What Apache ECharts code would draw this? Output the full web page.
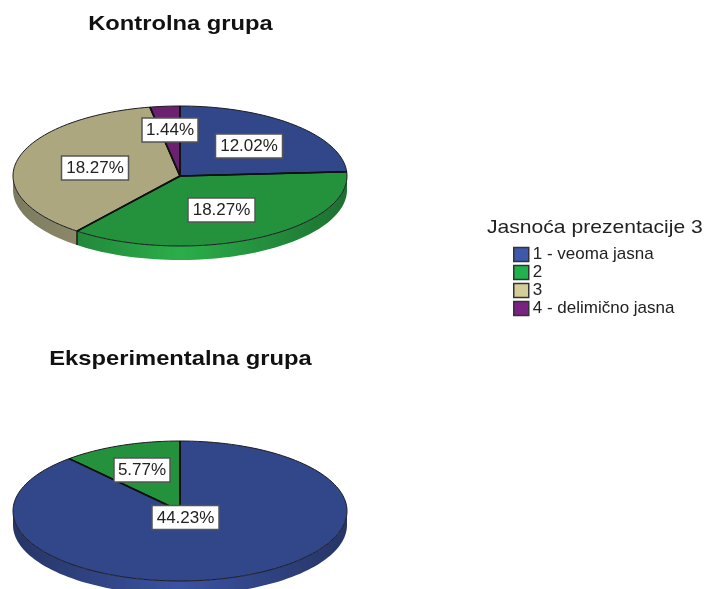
<!DOCTYPE html>
<html>
<head>
<meta charset="utf-8">
<title>Jasnoća prezentacije 3</title>
<style>
    html, body { margin: 0; padding: 0; background: #fff; }
    #chart { width: 706px; height: 589px; filter: blur(0.4px); }
</style>
<script src="https://cdn.jsdelivr.net/npm/echarts@6/dist/echarts.min.js"></script>
</head>
<body>
<div id="chart"></div>
<script>
// podaci (procenti od ukupnog uzorka)
const categories = ['1 - veoma jasna', '2', '3', '4 - delimično jasna'];
const groups = ['Kontrolna grupa', 'Eksperimentalna grupa'];
const kontrolna = [12.02, 18.27, 18.27, 1.44];
const eksperimentalna = [44.23, 5.77, 0, 0];
const legendTitle = 'Jasnoća prezentacije 3';

// boje
const topColors = ['#32478a', '#24923c', '#ada780', '#6b2070'];
const wallDark = ['#263566', '#1d7030', '#7c7a5e', '#4d1752'];
const wallLight = ['#3a52a0', '#2bae4a', '#a5a17c', '#6b2070'];
const legendColors = ['#3e58ac', '#21b24b', '#d3ce97', '#7a2182'];

// raspored
const panels = [
    { cx: 180, cy: 176, labels: [[249, 146], [221.5, 210], [95, 168], [170, 130]] },
    { cx: 180, cy: 511, labels: [[185.5, 517.5], [142, 470], null, null] }
];
const rx = 167;
const ry = 70;
const depth = 14;

const chart = echarts.init(document.getElementById('chart'));
const panelValues = [kontrolna, eksperimentalna];

// tacka na elipsi, ugao u stepenima od vrha u smeru kazaljke
function pt(p, deg, dy) {
    const a = deg * Math.PI / 180;
    return [p.cx + rx * Math.sin(a), p.cy - ry * Math.cos(a) + (dy || 0)];
}

function arcPoints(p, from, to, dy) {
    const pts = [];
    const steps = Math.max(2, Math.ceil((to - from) / 2));
    for (let i = 0; i <= steps; i++) {
        pts.push(pt(p, from + (to - from) * i / steps, dy));
    }
    return pts;
}

function renderSlice(catIndex) {
    return function (params, api) {
        const panelIndex = api.value(0);
        const value = api.value(1);
        if (!value) return { type: 'group', children: [] };

        const p = panels[panelIndex];
        const vals = panelValues[panelIndex];
        const total = vals.reduce((s, v) => s + v, 0);
        let start = 0;
        for (let i = 0; i < catIndex; i++) start += vals[i];
        const from = start / total * 360;
        const to = from + value / total * 360;
        const children = [];

        // bocni zid, samo prednja strana
        const wFrom = Math.max(from, 90);
        const wTo = Math.min(to, 270);
        if (wFrom < wTo) {
            const upper = arcPoints(p, wFrom, wTo, 0);
            const lower = arcPoints(p, wFrom, wTo, depth).reverse();
            children.push({
                type: 'polygon',
                shape: { points: upper.concat(lower) },
                style: {
                    fill: new echarts.graphic.LinearGradient(p.cx - rx, 0, p.cx + rx, 0, [
                        { offset: 0, color: wallDark[catIndex] },
                        { offset: 0.5, color: wallLight[catIndex] },
                        { offset: 1, color: wallDark[catIndex] }
                    ], true)
                },
                z2: 1
            });
            if (to > 90 && to < 270) {
                const a = pt(p, to, 0);
                children.push({
                    type: 'line',
                    shape: { x1: a[0], y1: a[1], x2: a[0], y2: a[1] + depth },
                    style: { stroke: '#1a1a1a', lineWidth: 1.5 },
                    z2: 2
                });
            }
        }

        // gornja povrsina
        children.push({
            type: 'polygon',
            shape: { points: [[p.cx, p.cy]].concat(arcPoints(p, from, to, 0)) },
            style: { fill: topColors[catIndex], stroke: '#1c1c24', lineWidth: 1 },
            z2: 3
        });
        [from, to].forEach(function (deg) {
            const e = pt(p, deg, 0);
            children.push({
                type: 'line',
                shape: { x1: p.cx, y1: p.cy, x2: e[0], y2: e[1] },
                style: { stroke: '#111', lineWidth: 1.6 },
                z2: 4
            });
        });

        // natpis sa procentom
        const pos = p.labels[catIndex];
        const text = value.toFixed(2) + '%';
        const w = text.length * 11 + 1;
        children.push({
            type: 'rect',
            shape: { x: pos[0] - w / 2, y: pos[1] - 12, width: w, height: 24 },
            style: { fill: '#fff', stroke: '#555', lineWidth: 1.5 },
            z2: 10
        });
        children.push({
            type: 'text',
            style: {
                text: text,
                x: pos[0],
                y: pos[1] + 0.5,
                align: 'center',
                verticalAlign: 'middle',
                fontFamily: 'Liberation Sans',
                fontSize: 17,
                fill: '#222'
            },
            z2: 11
        });
        return { type: 'group', children: children };
    };
}

const series = categories.map(function (name, i) {
    return {
        type: 'custom',
        name: name,
        coordinateSystem: 'none',
        silent: true,
        itemStyle: { color: legendColors[i] },
        renderItem: renderSlice(i),
        data: [[0, kontrolna[i]], [1, eksperimentalna[i]]]
    };
});

// naslovi su u originalu razvuceni po sirini
function stretchedText(text, x, y, align, scaleX, fontSize, fontWeight, fill) {
    return {
        type: 'text',
        x: x,
        y: y,
        scaleX: scaleX,
        silent: true,
        style: {
            text: text,
            x: 0,
            y: 0,
            align: align,
            verticalAlign: 'middle',
            fontFamily: 'Liberation Sans',
            fontSize: fontSize,
            fontWeight: fontWeight,
            fill: fill
        }
    };
}

const option = {
    animation: false,
    backgroundColor: '#fff',
    graphic: [
        stretchedText(groups[0], 180.5, 24, 'center', 1.13, 21, 'bold', '#111'),
        stretchedText(groups[1], 180.5, 359, 'center', 1.13, 21, 'bold', '#111'),
        stretchedText(legendTitle, 487, 228, 'left', 1.11, 19, 'normal', '#222')
    ],
    legend: {
        orient: 'vertical',
        left: 513,
        top: 246,
        itemWidth: 15,
        itemHeight: 14,
        itemGap: 1,
        padding: 0,
        selectedMode: false,
        textStyle: { fontFamily: 'Liberation Sans', fontSize: 17, lineHeight: 14, color: '#222', padding: [0, 0, 0, -1] },
        data: categories.map(function (name, i) {
            return {
                name: name,
                icon: 'rect',
                itemStyle: { color: legendColors[i], borderColor: '#333', borderWidth: 1.5 }
            };
        })
    },
    series: series
};

chart.setOption(option);
</script>
</body>
</html>
